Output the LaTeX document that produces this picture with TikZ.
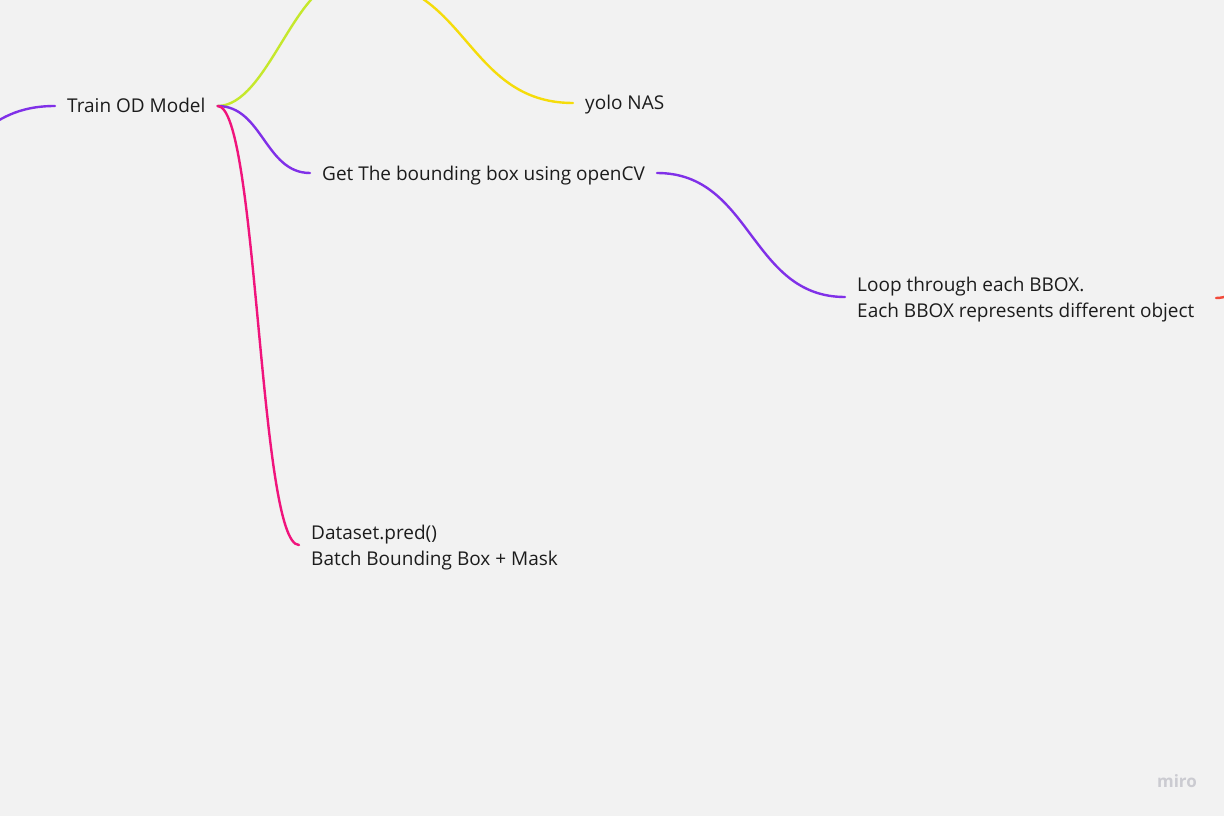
\documentclass[tikz,border=0pt]{standalone}
\usepackage{fontspec}
\setmainfont{Open Sans}
\usetikzlibrary{positioning}
\definecolor{bgfill}{HTML}{F2F2F2}
\definecolor{inktext}{HTML}{1C1C1C}
\definecolor{violetline}{HTML}{8030E8}
\definecolor{pinkline}{HTML}{F0147C}
\definecolor{limeline}{HTML}{C5E82C}
\definecolor{goldline}{HTML}{F5DC0A}
\definecolor{coralline}{HTML}{F24A3A}
\definecolor{logogray}{HTML}{CBCBD1}

\begin{document}
\begin{tikzpicture}[x=1pt,y=-1pt,line cap=round,
	topic/.style={anchor=west,inner xsep=12pt,inner ysep=0pt,text=inktext,
		font=\fontsize{19}{26}\selectfont,text height=14pt,text depth=0pt},
	twoline/.style={topic,align=left,text height=40pt,text depth=0pt},
	branch/.style={draw=#1,line width=2.4pt}]
%	\draw [help lines] (0,0) grid (1224,816);
	\useasboundingbox (0,0) rectangle (1224,816);
	\fill [bgfill] (0,0) rectangle (1224,816);
	\clip (0,0) rectangle (1224,816);
	% topics
	\node [topic] (train) at (55,106) {Train OD Model};
	\node [topic] (yolo) at (573,103) {yolo NAS};
	\node [topic] (bbox) at (310,173) {Get The bounding box using openCV};
	\node [twoline] (loop) at (845,297) {Loop through each BBOX.\\Each BBOX represents different object};
	\node [twoline] (pred) at (299,545) {Dataset.pred()\\Batch Bounding Box + Mask};
	% branch ends outside the frame
	\coordinate (fromleft) at (-100,160);
	\coordinate (upperin) at (345,-20);
	\coordinate (upperout) at (360,-20);
	\coordinate (stub) at (1216,298);
	\coordinate (offright) at (1300,230);
	% branches
	\draw [branch=violetline] (fromleft) .. controls +(80,0) and +(-75,0) .. (train.west);
	\draw [branch=limeline] (train.east) .. controls +(50,0) and +(-50,0) .. (upperin);
	\draw [branch=goldline] (upperout) .. controls +(107,0) and +(-107,0) .. (yolo.west);
	\draw [branch=violetline] (train.east) .. controls +(45,0) and +(-45,0) .. (bbox.west);
	\draw [branch=pinkline] (train.east) .. controls +(40,0) and +(-40,0) .. (pred.west);
	\draw [branch=violetline] (bbox.east) .. controls +(95,0) and +(-95,0) .. (loop.west);
	\draw [branch=coralline] (stub) .. controls +(40,0) and +(-40,0) .. (offright);
	% watermark
	\node [text=logogray,font=\fontsize{17}{17}\selectfont\bfseries] (logo) at (1177,781) {miro};
\end{tikzpicture}
\end{document}
